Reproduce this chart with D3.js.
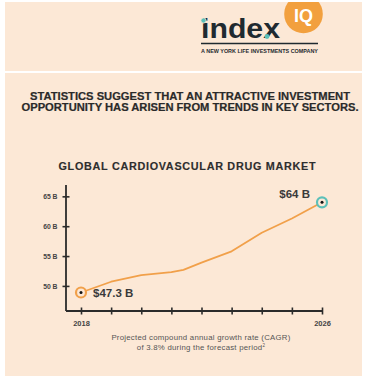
<!DOCTYPE html>
<html><head><meta charset="utf-8">
<script src="https://cdn.jsdelivr.net/npm/d3@7"></script>
<style>
html,body{margin:0;padding:0;background:#fff;}
svg{display:block;}
text{font-family:"Liberation Sans",Arial,sans-serif;}
</style></head>
<body>
<svg id="c" width="365" height="376"></svg>
<script>
// Data
const years = [2018, 2019, 2020, 2021, 2021.4, 2022, 2023, 2024, 2025, 2026];
const values = [48.9, 50.7, 51.8, 52.3, 52.7, 53.9, 55.8, 58.9, 61.3, 64.0];
const yTicks = [50, 55, 60, 65];
const xTicks = [2018, 2019, 2020, 2021, 2022, 2023, 2024, 2025, 2026];
const xTickLabels = {2018: "2018", 2026: "2026"};
const startLabel = "$47.3 B";
const endLabel = "$64 B";
const title = "GLOBAL CARDIOVASCULAR DRUG MARKET";
const headline = ["STATISTICS SUGGEST THAT AN ATTRACTIVE INVESTMENT",
                  "OPPORTUNITY HAS ARISEN FROM TRENDS IN KEY SECTORS."];
const note = ["Projected compound annual growth rate (CAGR)",
              "of 3.8% during the forecast period"];

const svg = d3.select("#c");
const peach = "#fce8d6";
const dark = "#2b2b2b";
const orange = "#f1a04a";
const teal = "#5cc0b9";

// Background panels
svg.append("rect").attr("x",5).attr("y",2).attr("width",357).attr("height",69).attr("fill",peach);
svg.append("rect").attr("x",5).attr("y",73).attr("width",357).attr("height",303).attr("fill",peach);

// Logo
const logo = svg.append("g");
logo.append("circle").attr("cx",303.5).attr("cy",14).attr("r",19.3).attr("fill","#f2a03e");
svg.append("rect").attr("x",280).attr("y",0).attr("width",50).attr("height",2).attr("fill","#fff");
logo.append("text").attr("x",303.5).attr("y",22).attr("text-anchor","middle")
  .attr("font-size",18).attr("font-weight","bold").attr("fill","#fff").text("IQ");
logo.append("text").attr("x",201).attr("y",37.5).attr("font-size",27).attr("font-weight","bold")
  .attr("fill","#1f2a30").attr("textLength",79).attr("lengthAdjust","spacingAndGlyphs").text("index");
logo.append("circle").attr("cx",203.5).attr("cy",20.5).attr("r",2.6).attr("fill",teal).attr("stroke",peach).attr("stroke-width",0.8);
logo.append("circle").attr("cx",267).attr("cy",36.5).attr("r",2.4).attr("fill",teal);
logo.append("line").attr("x1",201).attr("x2",318).attr("y1",43.5).attr("y2",43.5).attr("stroke","#1f2a30").attr("stroke-width",1.3);
logo.append("text").attr("x",201).attr("y",52.5).attr("font-size",4.8).attr("font-weight","bold")
  .attr("fill","#1f2a30").attr("textLength",117).attr("lengthAdjust","spacingAndGlyphs").text("A NEW YORK LIFE INVESTMENTS COMPANY");

// Headline
svg.selectAll(".hl").data(headline).join("text").attr("class","hl")
  .attr("x",190).attr("y",(d,i)=>99.5+i*11).attr("text-anchor","middle")
  .attr("font-size",10.2).attr("font-weight","bold").attr("fill","#2a2a2a")
  .attr("stroke","#2a2a2a").attr("stroke-width",0.2)
  .attr("textLength",(d,i)=>i===0?320:337).attr("lengthAdjust","spacingAndGlyphs")
  .text(d=>d);

// Title
svg.append("text").attr("x",187).attr("y",170).attr("text-anchor","middle")
  .attr("font-size",10.8).attr("font-weight","bold").attr("fill","#2e2e2e")
  .attr("stroke","#2e2e2e").attr("stroke-width",0.15)
  .attr("textLength",257).attr("lengthAdjust","spacing").text(title);

// Scales
const x = d3.scaleLinear().domain([2018, 2026]).range([81, 322]);
const y = d3.scaleLinear().domain([45.8, 66.9]).range([311, 185]);

// Y axis
const yAxis = svg.append("g").attr("transform","translate(66,0)")
  .call(d3.axisLeft(y).tickValues(yTicks).tickFormat(d=>d+" B").tickSize(3.5).tickPadding(5));
yAxis.select(".domain").remove();
yAxis.append("line").attr("x1",0).attr("x2",0).attr("y1",y.range()[1]).attr("y2",y.range()[0])
  .attr("stroke",dark).attr("stroke-width",1.8);
yAxis.selectAll(".tick line").attr("x1",3.5).attr("stroke",dark).attr("stroke-width",1.6);
yAxis.selectAll(".tick text").attr("font-size",6.8).attr("font-weight","bold").attr("fill","#444")
  .attr("font-family","'Liberation Sans',Arial,sans-serif").attr("dy","0.35em");

// X axis
const xAxis = svg.append("g").attr("transform","translate(0,311)")
  .call(d3.axisBottom(x).tickValues(xTicks).tickFormat(d=>xTickLabels[d]||"").tickSize(3.5).tickPadding(6));
xAxis.select(".domain").remove();
xAxis.append("line").attr("x1",66).attr("x2",x.range()[1]).attr("y1",0).attr("y2",0)
  .attr("stroke",dark).attr("stroke-width",1.8);
xAxis.selectAll(".tick line").attr("y1",-3.5).attr("stroke",dark).attr("stroke-width",1.6);
xAxis.selectAll(".tick text").attr("font-size",7.5).attr("font-weight","bold").attr("fill","#444")
  .attr("font-family","'Liberation Sans',Arial,sans-serif");

// Line
const pts = years.map((yr,i)=>[yr, values[i]]);
svg.append("path").datum(pts).attr("fill","none").attr("stroke",orange).attr("stroke-width",1.8)
  .attr("stroke-linejoin","round")
  .attr("d", d3.line().x(d=>x(d[0])).y(d=>y(d[1])));

// Markers
const first = pts[0], last = pts[pts.length-1];
[[first, orange],[last, teal]].forEach(([p,c])=>{
  svg.append("circle").attr("cx",x(p[0])).attr("cy",y(p[1])).attr("r",5).attr("fill",peach)
    .attr("stroke",c).attr("stroke-width",2.2);
  svg.append("circle").attr("cx",x(p[0])).attr("cy",y(p[1])).attr("r",1.5).attr("fill","#111");
});

// Value labels
svg.append("text").attr("x",x(first[0])+12).attr("y",y(first[1])+5).attr("font-size",11.5)
  .attr("font-weight","bold").attr("fill","#3a3a3a").text(startLabel);
svg.append("text").attr("x",x(last[0])-12).attr("y",y(last[1])-4).attr("text-anchor","end").attr("font-size",11.5)
  .attr("font-weight","bold").attr("fill","#3a3a3a").text(endLabel);

// Note
const nt = svg.selectAll(".nt").data(note).join("text").attr("class","nt")
  .attr("x",201).attr("y",(d,i)=>339.5+i*10.5).attr("text-anchor","middle")
  .attr("font-size",7.8).attr("fill","#555").attr("letter-spacing",0.25)
  .text(d=>d);
nt.filter((d,i)=>i===1).append("tspan").attr("font-size",4.5).attr("dy",-3.5).text("2");
</script>
</body></html>
